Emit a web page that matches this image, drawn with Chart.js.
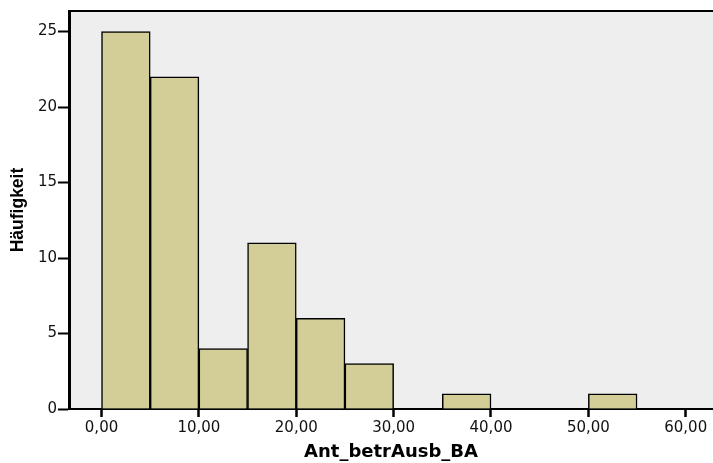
<!DOCTYPE html>
<html><head><meta charset="utf-8">
<script src="https://cdn.jsdelivr.net/npm/chart.js@4"></script>
<style>html,body{margin:0;padding:0;background:#fff}#wrap{width:713px;height:463px}</style>
</head><body><div id="wrap"><canvas id="c" width="713" height="463"></canvas></div>
<script>
const binStarts = [0, 5, 10, 15, 20, 25, 30, 35, 40, 45, 50];
const binWidth = 5;
const counts = [25, 22, 4, 11, 6, 3, 0, 1, 0, 0, 1];
const xTicks = [0, 10, 20, 30, 40, 50, 60];
const yTicks = [0, 5, 10, 15, 20, 25];
const xTitle = 'Ant_betrAusb_BA';
const yTitle = 'Häufigkeit';

const data = binStarts.map((s, i) => ({x: s + binWidth / 2, y: counts[i] === 0 ? null : counts[i]}));

const bgPlugin = {
  id: 'bg',
  beforeDraw(chart) {
    const {ctx, chartArea: a} = chart;
    ctx.save();
    ctx.fillStyle = '#EEEEEE';
    ctx.fillRect(a.left, a.top, a.right - a.left, a.bottom - a.top);
    ctx.strokeStyle = '#000';
    ctx.lineWidth = 2;
    ctx.beginPath();
    ctx.moveTo(a.left, a.top);
    ctx.lineTo(a.right, a.top);
    ctx.stroke();
    ctx.restore();
  }
};

new Chart(document.getElementById('c'), {
  type: 'bar',
  data: { datasets: [{
    data: data,
    backgroundColor: '#D3CE98',
    borderColor: '#000',
    borderWidth: 1.5,
    borderSkipped: 'start',
    barPercentage: 1,
    categoryPercentage: 1
  }]},
  options: {
    responsive: false,
    animation: false,
    layout: { padding: { top: 11, right: 0, left: 0, bottom: 0 } },
    plugins: { legend: { display: false }, tooltip: { enabled: false } },
    scales: {
      x: {
        type: 'linear',
        offset: false,
        min: -3.34, max: 62.8,
        afterBuildTicks(s) { s.ticks = xTicks.map(v => ({value: v})); },
        afterFit(s) { s.height = 54; },
        border: { display: true, color: '#000', width: 2 },
        grid: { display: true, offset: false, drawOnChartArea: false, drawTicks: true, tickLength: 8, tickWidth: 2.5, tickColor: '#000' },
        ticks: {
          color: '#111', padding: 2,
          font: { family: '"DejaVu Sans", sans-serif', size: 15 },
          callback: v => v.toFixed(2).replace('.', ',')
        },
        title: {
          display: true, text: xTitle, color: '#000', padding: { top: 4, bottom: 0 },
          font: { family: '"DejaVu Sans", sans-serif', size: 18, weight: 'bold' }
        }
      },
      y: {
        min: 0, max: 26.36,
        afterBuildTicks(s) { s.ticks = yTicks.map(v => ({value: v})); },
        afterFit(s) { s.width = 69; },
        border: { display: true, color: '#000', width: 3 },
        grid: { display: true, drawOnChartArea: false, drawTicks: true, tickLength: 11, tickWidth: 2, tickColor: '#000' },
        ticks: {
          color: '#111', padding: 1,
          font: { family: '"DejaVu Sans", sans-serif', size: 15 }
        },
        title: {
          display: true, text: yTitle, color: '#000', padding: { top: 8, bottom: 0 },
          font: { family: '"Liberation Sans", Arial, sans-serif', size: 17.5, weight: 'bold' }
        }
      }
    }
  },
  plugins: [bgPlugin]
});
</script></body></html>
